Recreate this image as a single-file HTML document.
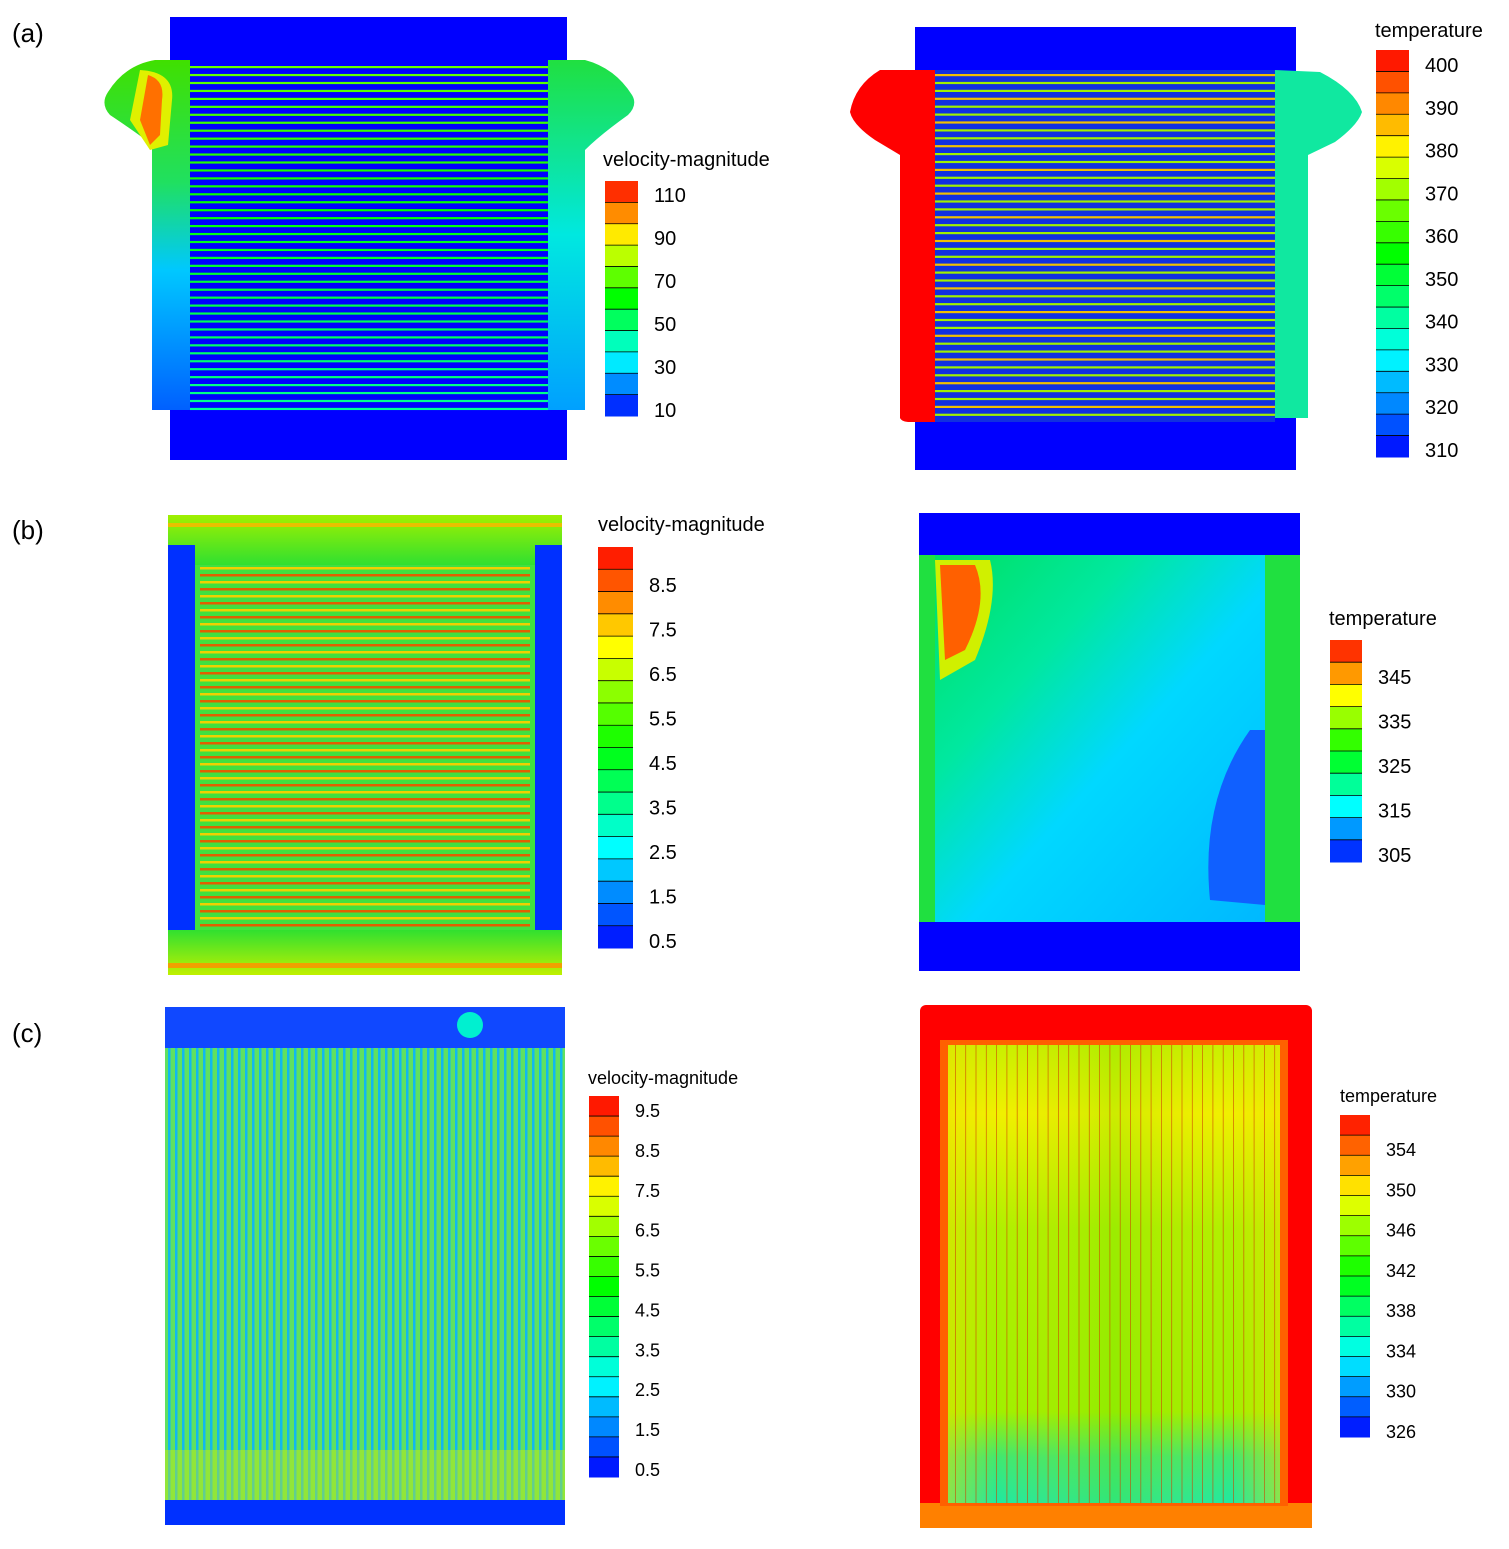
<!DOCTYPE html>
<html><head><meta charset="utf-8"><style>
html,body{margin:0;padding:0;background:#fff;width:1509px;height:1549px;overflow:hidden}
svg{display:block}
text{font-family:"Liberation Sans",sans-serif;fill:#000}
</style></head><body>
<svg id="s" width="1509" height="1549" viewBox="0 0 1509 1549" xmlns="http://www.w3.org/2000/svg">
<defs>
<linearGradient id="gbR" x1="0" y1="0" x2="1" y2="1">
<stop offset="0" stop-color="#00e060"/><stop offset="0.3" stop-color="#00e8a0"/><stop offset="0.55" stop-color="#00d8ff"/><stop offset="1" stop-color="#00b8ff"/></linearGradient>
<linearGradient id="cIn" x1="0" y1="0" x2="0" y2="1">
<stop offset="0" stop-color="#c8f000"/><stop offset="0.15" stop-color="#f0f000"/><stop offset="0.4" stop-color="#b0f000"/><stop offset="0.8" stop-color="#a0f000"/><stop offset="0.9" stop-color="#40e870"/><stop offset="1" stop-color="#20e8a0"/></linearGradient>
<linearGradient id="cInH" x1="0" y1="0" x2="1" y2="0">
<stop offset="0" stop-color="#f0e000" stop-opacity="0.5"/><stop offset="0.15" stop-color="#f0e000" stop-opacity="0"/><stop offset="0.5" stop-color="#60e000" stop-opacity="0.25"/><stop offset="0.85" stop-color="#f0e000" stop-opacity="0"/><stop offset="1" stop-color="#f0e000" stop-opacity="0.5"/></linearGradient>
<linearGradient id="aL" x1="0" y1="0" x2="0" y2="1">
<stop offset="0" stop-color="#40e000"/><stop offset="0.35" stop-color="#20e060"/><stop offset="0.6" stop-color="#00c8ff"/><stop offset="1" stop-color="#0060ff"/></linearGradient>
<linearGradient id="aR" x1="0" y1="0" x2="0" y2="1">
<stop offset="0" stop-color="#20e040"/><stop offset="0.5" stop-color="#00e8e0"/><stop offset="1" stop-color="#00a0ff"/></linearGradient>
<linearGradient id="bTop" x1="0" y1="0" x2="0" y2="1">
<stop offset="0" stop-color="#a0f000"/><stop offset="1" stop-color="#30e030"/></linearGradient>
<linearGradient id="bBot" x1="0" y1="0" x2="0" y2="1">
<stop offset="0" stop-color="#30e030"/><stop offset="1" stop-color="#c0f000"/></linearGradient>
</defs>
<g id="g"></g>
<text x="12" y="42" font-size="26">(a)</text>
<text x="12" y="539" font-size="26">(b)</text>
<text x="12" y="1042" font-size="26">(c)</text>
</svg>
<script>
var g=document.getElementById('g'),h='';
function col(t){t=Math.max(0,Math.min(1,t));return 'hsl('+(240*(1-t)).toFixed(0)+',100%,50%)';}
function R(x,y,w,hh,f,extra){h+='<rect x="'+x+'" y="'+y+'" width="'+w+'" height="'+hh+'" fill="'+f+'" '+(extra||'')+'/>';}
function T(x,y,s,fs){h+='<text x="'+x+'" y="'+y+'" font-size="'+fs+'">'+s+'</text>';}
function bar(x,y0,y1,w,n,labels,ly0,ly1,title,tx,ty,fs){
 var bh=(y1-y0)/n;
 for(var i=0;i<n;i++){R(x,y0+i*bh,w,bh+0.5,col(1-(i+0.5)/n));}
 for(var i=1;i<n;i++){h+='<line x1="'+x+'" x2="'+(x+w)+'" y1="'+(y0+i*bh)+'" y2="'+(y0+i*bh)+'" stroke="#000" stroke-width="0.8"/>';}
 for(var i=0;i<labels.length;i++){var yy=ly0+(ly1-ly0)*i/(labels.length-1);T(x+w+16,yy+7,labels[i],fs);}
 T(tx,ty,title,fs);
}
// (a) left
R(170,17,397,443,'#0000ff');
h+='<path d="M190 60 L155 60 Q125 65 108 92 Q100 104 110 115 Q140 135 152 145 L152 410 L190 410Z" fill="url(#aL)"/>';
h+='<path d="M140 70 Q175 72 172 100 L168 145 L150 150 L130 120 Z" fill="#e0f000"/>';
h+='<path d="M148 75 Q165 80 162 100 L160 135 L150 145 L140 120 Z" fill="#ff7000"/>';
h+='<path d="M548 60 L585 60 Q615 68 632 95 Q638 105 628 115 Q600 135 585 150 L585 410 L548 410Z" fill="url(#aR)"/>';
for(var i=0;i<44;i++){var y=66+i*7.95;var t=0.6-0.25*i/44;R(190,y,358,2.2,col(t));}
bar(605,181,416,33,11,['110','90','70','50','30','10'],195,410,'velocity-magnitude',603,166,20);
// (a) right
R(915,27,381,443,'#0000ff');
R(935,70,340,352,'#1030e0');
h+='<path d="M935 70 L880 70 Q855 85 850 112 Q853 125 875 140 L900 155 L900 418 Q902 422 910 422 L935 422Z" fill="#ff0000"/>';
h+='<path d="M1275 70 L1320 72 Q1355 90 1362 112 Q1358 125 1335 142 L1308 155 L1308 418 L1275 418Z" fill="#10e8a0"/>';
for(var i=0;i<44;i++){var y=74+i*7.9;R(935,y,340,2.2,i%3==0?'#f0c000':'#a0f000');}
bar(1376,50,457,33,19,['400','390','380','370','360','350','340','330','320','310'],65,450,'temperature',1375,37,20);
// (b) left
R(168,515,394,460,'#30e000');
R(168,515,394,50,'url(#bTop)');
R(168,930,394,45,'url(#bBot)');
R(168,963,394,5,'#f0a000');R(168,523,394,4,'#e8c000');
R(168,545,27,385,'#0030ff');R(535,545,27,385,'#0030ff');
R(195,565,340,365,'#40e040');
for(var i=0;i<52;i++){var y=567+i*7.0;R(200,y,330,2.5,i%2?'#e06000':'#f0d000');}
bar(598,547,948,35,18,['8.5','7.5','6.5','5.5','4.5','3.5','2.5','1.5','0.5'],585,941,'velocity-magnitude',598,531,20);
// (b) right
R(919,513,381,458,'#20e040');
R(935,555,330,367,'url(#gbR)');
h+='<path d="M1250 730 Q1200 800 1210 900 L1265 905 L1265 730Z" fill="#1060ff"/>';
h+='<path d="M935 560 L990 560 Q1000 600 975 660 L940 680Z" fill="#d0f000"/>';
h+='<path d="M940 565 L975 565 Q990 600 965 650 L945 660Z" fill="#ff6000"/>';
R(919,513,381,42,'#0000ff');R(919,922,381,49,'#0000ff');
bar(1330,640,862,32,10,['345','335','325','315','305'],677,855,'temperature',1329,625,20);
// (c) left
R(165,1007,400,518,'#60e060');
R(165,1007,400,41,'#1048ff');
R(165,1500,400,25,'#0030ff');
h+='<circle cx="470" cy="1025" r="13" fill="#00f0d0"/>';
for(var i=0;i<57;i++){var x=168+i*7.0;R(x,1048,2.5,452,'#10b8f0');}
R(165,1450,400,50,'rgba(220,240,0,0.4)');
bar(589,1096,1477,30,19,['9.5','8.5','7.5','6.5','5.5','4.5','3.5','2.5','1.5','0.5'],1110,1469,'velocity-magnitude',588,1084,18);
// (c) right
R(920,1005,392,523,'#ff0000',' rx="6"');
R(920,1503,392,25,'#ff8000');
R(940,1040,348,466,'#ff6000');
R(948,1045,332,458,'url(#cIn)');
R(948,1045,332,458,'url(#cInH)');
for(var i=0;i<32;i++){var x=955+i*10.3;R(x,1045,0.8,458,'#d04000','opacity="0.7"');}
bar(1340,1115,1437,30,16,['354','350','346','342','338','334','330','326'],1149,1431,'temperature',1340,1102,18);
g.innerHTML=h;
</script>
</body></html>
